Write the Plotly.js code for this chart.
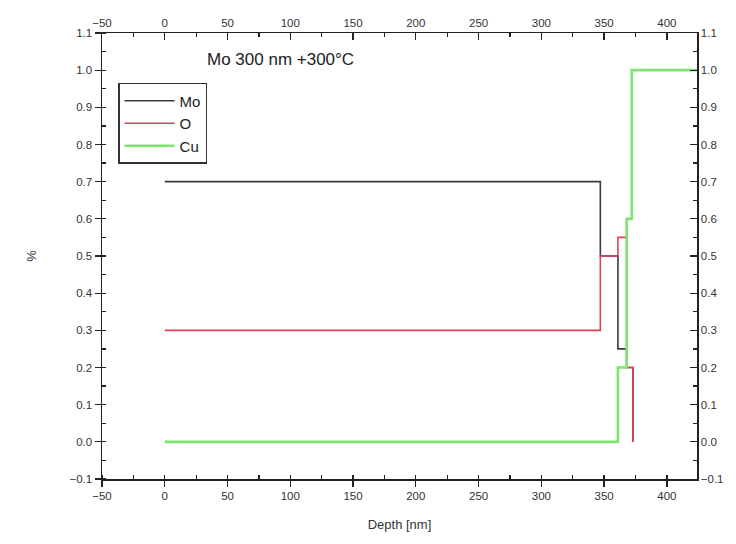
<!DOCTYPE html>
<html>
<head>
<meta charset="utf-8">
<script src="https://cdn.plot.ly/plotly-3.0.1.min.js"></script>
<style>html,body{margin:0;padding:0;background:#fff;}#chart{width:736px;height:544px;}</style>
</head>
<body>
<div id="chart"></div>
<script>
// Depth profile data (step-shaped)
const moDepth = [0, 347, 361, 368, 373];
const moValue = [0.7, 0.5, 0.25, 0.2, 0.0];
const oDepth = [0, 347, 361, 368, 373];
const oValue = [0.3, 0.5, 0.55, 0.2, 0.0];
const cuDepth = [0, 361, 368, 372, 430];
const cuValue = [0.0, 0.2, 0.6, 1.0, 1.0];
const seriesNames = ["Mo", "O", "Cu"];
const chartTitle = "Mo 300 nm +300°C";
const xTitle = "Depth [nm]";
const yTitle = "%";

const fontFam = "Liberation Sans, Arial, sans-serif";
const tickFont = {family: fontFam, size: 11.5, color: "#333"};

const traces = [
  {x: moDepth, y: moValue, name: seriesNames[0], mode: "lines", line: {shape: "hv", color: "#3a3a3a", width: 1.6}},
  {x: oDepth, y: oValue, name: seriesNames[1], mode: "lines", line: {shape: "hv", color: "#e0405a", width: 1.6}},
  {x: cuDepth, y: cuValue, name: seriesNames[2], mode: "lines", line: {shape: "hv", color: "#7fe36f", width: 2.6}},
  // empty trace so the top/right axes get drawn
  {x: [], y: [], xaxis: "x2", yaxis: "y2", showlegend: false, hoverinfo: "skip", mode: "lines"}
];

const xr = [-50, 424];
const yr = [-0.1, 1.1];

const layout = {
  width: 736, height: 544,
  margin: {l: 102, r: 39, t: 33, b: 65},
  paper_bgcolor: "#fff", plot_bgcolor: "#fff",
  showlegend: true,
  legend: {x: 0.027, y: 0.888, xanchor: "left", yanchor: "top", bordercolor: "#333", borderwidth: 1.5,
           bgcolor: "#fff", font: {family: fontFam, size: 15, color: "#222"}, tracegroupgap: 0, itemwidth: 50},
  xaxis: {range: xr, dtick: 50, tick0: 0, showgrid: false, zeroline: false, showline: true, linecolor: "#222", linewidth: 1.5,
          ticks: "outside", ticklen: 6, tickcolor: "#222", tickwidth: 1.3, tickfont: tickFont,
          minor: {dtick: 25, ticks: "inside", ticklen: 4, tickcolor: "#222", showgrid: false},
          title: {text: xTitle, font: {family: fontFam, size: 13, color: "#333"}, standoff: 18}},
  yaxis: {range: yr, dtick: 0.1, tick0: 0, tickformat: ".1f", showgrid: false, zeroline: false, showline: true, linecolor: "#222", linewidth: 1.5,
          ticks: "outside", ticklen: 6, tickcolor: "#222", tickwidth: 1.3, tickfont: tickFont,
          minor: {dtick: 0.05, ticks: "inside", ticklen: 4, tickcolor: "#222", showgrid: false},
          title: {text: yTitle, font: {family: fontFam, size: 13, color: "#333"}, standoff: 30}},
  xaxis2: {range: xr, overlaying: "x", side: "top", anchor: "y2", dtick: 50, tick0: 0, showgrid: false, zeroline: false,
           showline: true, linecolor: "#222", linewidth: 1.5, ticks: "inside", ticklen: 7, tickcolor: "#222", tickwidth: 1.3,
           tickfont: tickFont, minor: {dtick: 25, ticks: "inside", ticklen: 4, tickcolor: "#222", showgrid: false}},
  yaxis2: {range: yr, overlaying: "y", side: "right", anchor: "x2", dtick: 0.1, tick0: 0, tickformat: ".1f", showgrid: false, zeroline: false,
           showline: true, linecolor: "#222", linewidth: 1.5, ticks: "inside", ticklen: 7, tickcolor: "#222", tickwidth: 1.3,
           tickfont: tickFont, minor: {dtick: 0.05, ticks: "inside", ticklen: 4, tickcolor: "#222", showgrid: false}},
  annotations: [{text: chartTitle, xref: "x", yref: "y", x: 92, y: 1.03, showarrow: false,
                 font: {family: fontFam, size: 17, color: "#222"}}]
};

Plotly.newPlot("chart", traces, layout, {displayModeBar: false, staticPlot: true});
</script>
</body>
</html>
